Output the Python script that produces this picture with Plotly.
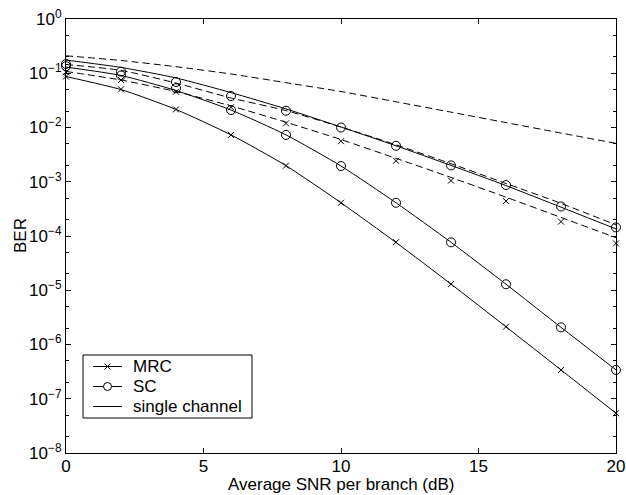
import plotly.graph_objects as go

# SNR per branch (dB)
snr = [0, 2, 4, 6, 8, 10, 12, 14, 16, 18, 20]

# analytic curves (lines)
single_dash = [0.21, 0.172, 0.132, 0.097, 0.067, 0.046, 0.0298, 0.0192, 0.0123, 0.0079, 0.0051]
sc_upper_line = [0.175, 0.128, 0.082, 0.044, 0.022, 0.0102, 0.0046, 0.0020, 0.00085, 0.00034, 0.000135]
dash_mid = [0.145, 0.113, 0.066, 0.035, 0.0205, 0.0102, 0.0048, 0.00215, 0.00093, 0.0004, 0.00016]
sc_lower_line = [0.13, 0.091, 0.048, 0.021, 0.0073, 0.00195, 0.00041, 7.65e-5, 1.29e-5, 2.07e-6, 3.4e-7]
mrc_dash = [0.108, 0.075, 0.046, 0.025, 0.0125, 0.006, 0.0027, 0.0012, 0.00052, 0.00022, 9.3e-5]
mrc_lower_line = [0.087, 0.05, 0.0215, 0.0073, 0.00198, 0.00041, 7.6e-5, 1.3e-5, 2.12e-6, 3.4e-7, 5.4e-8]

# simulated points (markers)
sc_upper_pts = [0.148, 0.107, 0.069, 0.038, 0.0204, 0.0100, 0.0046, 0.0020, 0.00087, 0.00035, 0.000144]
sc_lower_pts = [0.135, 0.091, 0.053, 0.021, 0.0073, 0.00195, 0.00041, 7.65e-5, 1.29e-5, 2.07e-6, 3.4e-7]
mrc_upper_pts = [0.105, 0.075, 0.0457, 0.0236, 0.0119, 0.0056, 0.00244, 0.00105, 0.00044, 0.000184, 7.3e-5]
mrc_lower_pts = [0.087, 0.0506, 0.0216, 0.0073, 0.00198, 0.00041, 7.7e-5, 1.3e-5, 2.13e-6, 3.39e-7, 5.4e-8]

y_tickvals = [1e-8, 1e-7, 1e-6, 1e-5, 1e-4, 1e-3, 1e-2, 1e-1, 1]
y_ticktext = ["10<sup>−8</sup>", "10<sup>−7</sup>", "10<sup>−6</sup>", "10<sup>−5</sup>",
              "10<sup>−4</sup>", "10<sup>−3</sup>", "10<sup>−2</sup>", "10<sup>−1</sup>", "10<sup>0</sup>"]
x_tickvals = [0, 5, 10, 15, 20]

legend_names = ["MRC", "SC", "single channel"]
x_title = "Average SNR per branch (dB)"
y_title = "BER"

# figure geometry (pixels)
W, H = 626, 495
ML, MR, MT, MB = 66, 10, 19, 42
PW, PH = W - ML - MR, H - MT - MB

def px(x):
    return (x - ML) / PW

def py(y):
    return (H - MB - y) / PH

fig = go.Figure()

def add_line(y, dash):
    fig.add_trace(go.Scatter(x=snr, y=y, mode="lines", showlegend=False,
                             line=dict(color="black", width=1, dash=dash, shape="spline", smoothing=0.6),
                             hoverinfo="skip"))

def add_pts(y, symbol, size):
    fig.add_trace(go.Scatter(x=snr, y=y, mode="markers", showlegend=False, cliponaxis=False,
                             marker=dict(symbol=symbol, size=size, color="black",
                                         line=dict(color="black", width=1))))

add_line(single_dash, "7px,4px")
add_line(sc_upper_line, "solid")
add_line(dash_mid, "7px,4px")
add_line(sc_lower_line, "solid")
add_line(mrc_dash, "7px,4px")
add_line(mrc_lower_line, "solid")

add_pts(sc_upper_pts, "circle-open", 9)
add_pts(sc_lower_pts, "circle-open", 9)
add_pts(mrc_upper_pts, "x-thin-open", 6)
add_pts(mrc_lower_pts, "x-thin-open", 6)

# ---- legend box (drawn in paper coordinates) ----
shapes = []
annotations = []
box = dict(type="rect", xref="paper", yref="paper", x0=px(83), x1=px(252), y0=py(418), y1=py(355),
           line=dict(color="black", width=1), fillcolor="white", layer="above")
shapes.append(box)
entry_y = [366.5, 386.5, 406.5]
for i, name in enumerate(legend_names):
    yc = entry_y[i]
    shapes.append(dict(type="line", xref="paper", yref="paper", x0=px(93), x1=px(122), y0=py(yc), y1=py(yc),
                       line=dict(color="black", width=1), layer="above"))
    if i == 0:
        for s in (1, -1):
            shapes.append(dict(type="line", xref="paper", yref="paper",
                               x0=px(107.5 - 3), x1=px(107.5 + 3), y0=py(yc - 3 * s), y1=py(yc + 3 * s),
                               line=dict(color="black", width=1), layer="above"))
    elif i == 1:
        shapes.append(dict(type="circle", xref="paper", yref="paper",
                           x0=px(103.5), x1=px(111.5), y0=py(yc + 4), y1=py(yc - 4),
                           line=dict(color="black", width=1), fillcolor="white", layer="above"))
    annotations.append(dict(text=name, xref="paper", yref="paper", x=px(131), y=py(yc),
                            xanchor="left", yanchor="middle", showarrow=False,
                            font=dict(size=17, color="black")))

# axis titles
annotations.append(dict(text=y_title, xref="paper", yref="paper", x=px(20), y=py(236),
                        xanchor="center", yanchor="middle", showarrow=False, textangle=-90,
                        font=dict(size=17, color="black")))
annotations.append(dict(text=x_title, xref="paper", yref="paper", x=px(341), y=py(495),
                        xanchor="center", yanchor="bottom", showarrow=False, borderpad=0,
                        font=dict(size=17, color="black")))

axis_common = dict(showline=True, linecolor="black", linewidth=1, mirror="ticks",
                   ticks="inside", tickcolor="black", ticklen=5, showgrid=False, zeroline=False,
                   automargin=False)

fig.update_layout(
    width=W, height=H,
    margin=dict(l=ML, r=MR, t=MT, b=MB, autoexpand=False),
    paper_bgcolor="white", plot_bgcolor="white",
    font=dict(family="Liberation Sans, Arial, sans-serif", size=17, color="black"),
    xaxis=dict(range=[0, 20], tickvals=x_tickvals, tickfont=dict(size=17), ticklabelstandoff=-2,
               **axis_common),
    yaxis=dict(type="log", range=[-8, 0], tickvals=y_tickvals, ticktext=y_ticktext, tickfont=dict(size=17),
               minor=dict(ticks="inside", ticklen=3, tickcolor="black", showgrid=False),
               **axis_common),
    shapes=shapes,
    annotations=annotations,
    showlegend=False,
)

fig.write_html("out.html", post_script="document.body.style.margin='0';",
               config={"displayModeBar": False})
